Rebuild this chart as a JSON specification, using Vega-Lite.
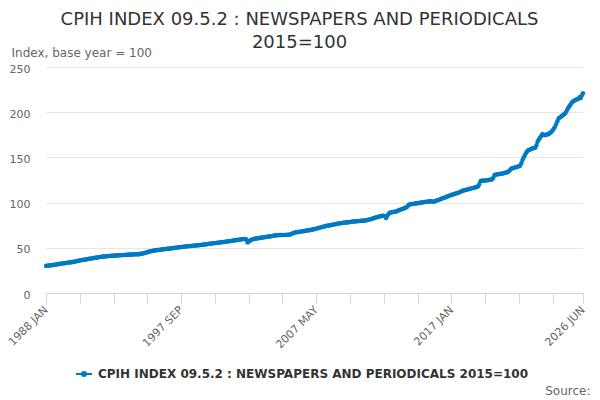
{
  "$schema": "https://vega.github.io/schema/vega-lite/v6.json",
  "description": "CPIH index 09.5.2, newspapers and periodicals, monthly",
  "width": 537,
  "height": 226,
  "autosize": {"type": "none"},
  "padding": {"left": 46, "top": 67, "right": 17, "bottom": 107},
  "background": "white",
  "config": {"font": "DejaVu Sans", "view": {"stroke": null}},
  "title": {
    "text": ["CPIH INDEX 09.5.2 : NEWSPAPERS AND PERIODICALS", "2015=100"],
    "fontSize": 18,
    "fontWeight": "normal",
    "color": "#333333",
    "anchor": "middle",
    "frame": "group",
    "dx": -15,
    "offset": -6,
    "lineHeight": 23
  },
  "data": {
    "values": [
      {"d":"1988-01","v":30.0},{"d":"1988-02","v":30.2},{"d":"1988-03","v":30.3},{"d":"1988-04","v":30.5},{"d":"1988-05","v":30.6},{"d":"1988-06","v":30.8},{"d":"1988-07","v":31.0},{"d":"1988-08","v":31.2},{"d":"1988-09","v":31.4},{"d":"1988-10","v":31.6},{"d":"1988-11","v":31.8},{"d":"1988-12","v":32.0},
      {"d":"1989-01","v":32.3},{"d":"1989-02","v":32.5},{"d":"1989-03","v":32.7},{"d":"1989-04","v":32.9},{"d":"1989-05","v":33.0},{"d":"1989-06","v":33.2},{"d":"1989-07","v":33.4},{"d":"1989-08","v":33.6},{"d":"1989-09","v":33.8},{"d":"1989-10","v":34.0},{"d":"1989-11","v":34.1},{"d":"1989-12","v":34.3},
      {"d":"1990-01","v":34.6},{"d":"1990-02","v":34.9},{"d":"1990-03","v":35.1},{"d":"1990-04","v":35.4},{"d":"1990-05","v":35.7},{"d":"1990-06","v":35.9},{"d":"1990-07","v":36.2},{"d":"1990-08","v":36.4},{"d":"1990-09","v":36.7},{"d":"1990-10","v":36.9},{"d":"1990-11","v":37.1},{"d":"1990-12","v":37.3},
      {"d":"1991-01","v":37.6},{"d":"1991-02","v":37.8},{"d":"1991-03","v":38.0},{"d":"1991-04","v":38.3},{"d":"1991-05","v":38.5},{"d":"1991-06","v":38.7},{"d":"1991-07","v":38.9},{"d":"1991-08","v":39.1},{"d":"1991-09","v":39.3},{"d":"1991-10","v":39.5},{"d":"1991-11","v":39.7},{"d":"1991-12","v":39.9},
      {"d":"1992-01","v":40.1},{"d":"1992-02","v":40.3},{"d":"1992-03","v":40.4},{"d":"1992-04","v":40.5},{"d":"1992-05","v":40.7},{"d":"1992-06","v":40.8},{"d":"1992-07","v":40.9},{"d":"1992-08","v":41.0},{"d":"1992-09","v":41.1},{"d":"1992-10","v":41.2},{"d":"1992-11","v":41.3},{"d":"1992-12","v":41.4},
      {"d":"1993-01","v":41.5},{"d":"1993-02","v":41.6},{"d":"1993-03","v":41.7},{"d":"1993-04","v":41.7},{"d":"1993-05","v":41.8},{"d":"1993-06","v":41.9},{"d":"1993-07","v":42.0},{"d":"1993-08","v":42.0},{"d":"1993-09","v":42.1},{"d":"1993-10","v":42.2},{"d":"1993-11","v":42.3},{"d":"1993-12","v":42.4},
      {"d":"1994-01","v":42.5},{"d":"1994-02","v":42.6},{"d":"1994-03","v":42.6},{"d":"1994-04","v":42.7},{"d":"1994-05","v":42.8},{"d":"1994-06","v":42.8},{"d":"1994-07","v":43.0},{"d":"1994-08","v":42.7},{"d":"1994-09","v":43.0},{"d":"1994-10","v":43.3},{"d":"1994-11","v":43.5},{"d":"1994-12","v":43.6},
      {"d":"1995-01","v":44.0},{"d":"1995-02","v":44.4},{"d":"1995-03","v":44.8},{"d":"1995-04","v":45.2},{"d":"1995-05","v":45.6},{"d":"1995-06","v":46.0},{"d":"1995-07","v":46.3},{"d":"1995-08","v":46.6},{"d":"1995-09","v":46.8},{"d":"1995-10","v":47.0},{"d":"1995-11","v":47.2},{"d":"1995-12","v":47.3},
      {"d":"1996-01","v":47.5},{"d":"1996-02","v":47.7},{"d":"1996-03","v":47.9},{"d":"1996-04","v":48.0},{"d":"1996-05","v":48.2},{"d":"1996-06","v":48.4},{"d":"1996-07","v":48.6},{"d":"1996-08","v":48.7},{"d":"1996-09","v":48.9},{"d":"1996-10","v":49.0},{"d":"1996-11","v":49.2},{"d":"1996-12","v":49.3},
      {"d":"1997-01","v":49.5},{"d":"1997-02","v":49.7},{"d":"1997-03","v":49.8},{"d":"1997-04","v":50.0},{"d":"1997-05","v":50.2},{"d":"1997-06","v":50.3},{"d":"1997-07","v":50.5},{"d":"1997-08","v":50.7},{"d":"1997-09","v":50.8},{"d":"1997-10","v":51.0},{"d":"1997-11","v":51.2},{"d":"1997-12","v":51.3},
      {"d":"1998-01","v":51.5},{"d":"1998-02","v":51.6},{"d":"1998-03","v":51.8},{"d":"1998-04","v":51.9},{"d":"1998-05","v":52.0},{"d":"1998-06","v":52.1},{"d":"1998-07","v":52.3},{"d":"1998-08","v":52.4},{"d":"1998-09","v":52.5},{"d":"1998-10","v":52.6},{"d":"1998-11","v":52.8},{"d":"1998-12","v":52.9},
      {"d":"1999-01","v":53.0},{"d":"1999-02","v":53.2},{"d":"1999-03","v":53.4},{"d":"1999-04","v":53.5},{"d":"1999-05","v":53.7},{"d":"1999-06","v":53.9},{"d":"1999-07","v":54.0},{"d":"1999-08","v":54.2},{"d":"1999-09","v":54.4},{"d":"1999-10","v":54.5},{"d":"1999-11","v":54.7},{"d":"1999-12","v":54.9},
      {"d":"2000-01","v":55.0},{"d":"2000-02","v":55.2},{"d":"2000-03","v":55.4},{"d":"2000-04","v":55.5},{"d":"2000-05","v":55.7},{"d":"2000-06","v":55.9},{"d":"2000-07","v":56.0},{"d":"2000-08","v":56.2},{"d":"2000-09","v":56.4},{"d":"2000-10","v":56.5},{"d":"2000-11","v":56.7},{"d":"2000-12","v":56.9},
      {"d":"2001-01","v":57.0},{"d":"2001-02","v":57.2},{"d":"2001-03","v":57.4},{"d":"2001-04","v":57.6},{"d":"2001-05","v":57.8},{"d":"2001-06","v":58.0},{"d":"2001-07","v":58.2},{"d":"2001-08","v":58.4},{"d":"2001-09","v":58.6},{"d":"2001-10","v":58.8},{"d":"2001-11","v":59.0},{"d":"2001-12","v":59.2},
      {"d":"2002-01","v":59.4},{"d":"2002-02","v":59.6},{"d":"2002-03","v":59.7},{"d":"2002-04","v":59.8},{"d":"2002-05","v":59.2},{"d":"2002-06","v":56.0},{"d":"2002-07","v":56.8},{"d":"2002-08","v":57.8},{"d":"2002-09","v":58.6},{"d":"2002-10","v":59.2},{"d":"2002-11","v":59.6},{"d":"2002-12","v":60.0},
      {"d":"2003-01","v":60.2},{"d":"2003-02","v":60.4},{"d":"2003-03","v":60.6},{"d":"2003-04","v":60.8},{"d":"2003-05","v":61.0},{"d":"2003-06","v":61.2},{"d":"2003-07","v":61.4},{"d":"2003-08","v":61.6},{"d":"2003-09","v":61.8},{"d":"2003-10","v":62.0},{"d":"2003-11","v":62.2},{"d":"2003-12","v":62.4},
      {"d":"2004-01","v":62.6},{"d":"2004-02","v":62.8},{"d":"2004-03","v":63.0},{"d":"2004-04","v":63.2},{"d":"2004-05","v":63.5},{"d":"2004-06","v":63.8},{"d":"2004-07","v":64.0},{"d":"2004-08","v":64.0},{"d":"2004-09","v":64.1},{"d":"2004-10","v":64.1},{"d":"2004-11","v":64.2},{"d":"2004-12","v":64.2},
      {"d":"2005-01","v":64.2},{"d":"2005-02","v":64.3},{"d":"2005-03","v":64.3},{"d":"2005-04","v":64.4},{"d":"2005-05","v":64.4},{"d":"2005-06","v":64.5},{"d":"2005-07","v":65.0},{"d":"2005-08","v":65.6},{"d":"2005-09","v":66.1},{"d":"2005-10","v":66.6},{"d":"2005-11","v":67.0},{"d":"2005-12","v":67.2},
      {"d":"2006-01","v":67.4},{"d":"2006-02","v":67.6},{"d":"2006-03","v":67.8},{"d":"2006-04","v":68.0},{"d":"2006-05","v":68.2},{"d":"2006-06","v":68.4},{"d":"2006-07","v":68.6},{"d":"2006-08","v":68.9},{"d":"2006-09","v":69.1},{"d":"2006-10","v":69.3},{"d":"2006-11","v":69.5},{"d":"2006-12","v":69.8},
      {"d":"2007-01","v":70.0},{"d":"2007-02","v":70.3},{"d":"2007-03","v":70.6},{"d":"2007-04","v":70.9},{"d":"2007-05","v":71.2},{"d":"2007-06","v":71.5},{"d":"2007-07","v":71.9},{"d":"2007-08","v":72.2},{"d":"2007-09","v":72.6},{"d":"2007-10","v":72.9},{"d":"2007-11","v":73.3},{"d":"2007-12","v":73.6},
      {"d":"2008-01","v":74.0},{"d":"2008-02","v":74.3},{"d":"2008-03","v":74.5},{"d":"2008-04","v":74.8},{"d":"2008-05","v":75.0},{"d":"2008-06","v":75.3},{"d":"2008-07","v":75.5},{"d":"2008-08","v":75.8},{"d":"2008-09","v":76.0},{"d":"2008-10","v":76.3},{"d":"2008-11","v":76.5},{"d":"2008-12","v":76.8},
      {"d":"2009-01","v":77.0},{"d":"2009-02","v":77.3},{"d":"2009-03","v":77.5},{"d":"2009-04","v":77.6},{"d":"2009-05","v":77.8},{"d":"2009-06","v":77.9},{"d":"2009-07","v":78.0},{"d":"2009-08","v":78.2},{"d":"2009-09","v":78.3},{"d":"2009-10","v":78.5},{"d":"2009-11","v":78.7},{"d":"2009-12","v":78.9},
      {"d":"2010-01","v":79.0},{"d":"2010-02","v":79.1},{"d":"2010-03","v":79.3},{"d":"2010-04","v":79.4},{"d":"2010-05","v":79.5},{"d":"2010-06","v":79.6},{"d":"2010-07","v":79.8},{"d":"2010-08","v":79.9},{"d":"2010-09","v":80.0},{"d":"2010-10","v":80.1},{"d":"2010-11","v":80.3},{"d":"2010-12","v":80.5},
      {"d":"2011-01","v":80.7},{"d":"2011-02","v":81.0},{"d":"2011-03","v":81.4},{"d":"2011-04","v":81.8},{"d":"2011-05","v":82.2},{"d":"2011-06","v":82.6},{"d":"2011-07","v":83.0},{"d":"2011-08","v":83.4},{"d":"2011-09","v":83.8},{"d":"2011-10","v":84.2},{"d":"2011-11","v":84.6},{"d":"2011-12","v":85.0},
      {"d":"2012-01","v":85.2},{"d":"2012-02","v":85.4},{"d":"2012-03","v":85.6},{"d":"2012-04","v":85.0},{"d":"2012-05","v":83.0},{"d":"2012-06","v":85.5},{"d":"2012-07","v":87.5},{"d":"2012-08","v":88.8},{"d":"2012-09","v":89.1},{"d":"2012-10","v":89.4},{"d":"2012-11","v":89.6},{"d":"2012-12","v":89.8},
      {"d":"2013-01","v":90.0},{"d":"2013-02","v":90.5},{"d":"2013-03","v":91.0},{"d":"2013-04","v":91.5},{"d":"2013-05","v":92.0},{"d":"2013-06","v":92.5},{"d":"2013-07","v":93.0},{"d":"2013-08","v":93.5},{"d":"2013-09","v":94.0},{"d":"2013-10","v":94.6},{"d":"2013-11","v":95.5},{"d":"2013-12","v":97.0},
      {"d":"2014-01","v":98.0},{"d":"2014-02","v":98.2},{"d":"2014-03","v":98.4},{"d":"2014-04","v":98.6},{"d":"2014-05","v":98.8},{"d":"2014-06","v":99.0},{"d":"2014-07","v":99.2},{"d":"2014-08","v":99.4},{"d":"2014-09","v":99.6},{"d":"2014-10","v":99.8},{"d":"2014-11","v":100.0},{"d":"2014-12","v":100.2},
      {"d":"2015-01","v":100.4},{"d":"2015-02","v":100.6},{"d":"2015-03","v":100.8},{"d":"2015-04","v":101.0},{"d":"2015-05","v":101.2},{"d":"2015-06","v":101.3},{"d":"2015-07","v":101.4},{"d":"2015-08","v":101.5},{"d":"2015-09","v":101.2},{"d":"2015-10","v":101.0},{"d":"2015-11","v":101.6},{"d":"2015-12","v":102.0},
      {"d":"2016-01","v":102.5},{"d":"2016-02","v":103.0},{"d":"2016-03","v":103.5},{"d":"2016-04","v":104.0},{"d":"2016-05","v":104.5},{"d":"2016-06","v":105.0},{"d":"2016-07","v":105.5},{"d":"2016-08","v":106.0},{"d":"2016-09","v":106.5},{"d":"2016-10","v":107.0},{"d":"2016-11","v":107.5},{"d":"2016-12","v":108.0},
      {"d":"2017-01","v":108.5},{"d":"2017-02","v":108.9},{"d":"2017-03","v":109.3},{"d":"2017-04","v":109.8},{"d":"2017-05","v":110.2},{"d":"2017-06","v":110.6},{"d":"2017-07","v":111.0},{"d":"2017-08","v":111.5},{"d":"2017-09","v":112.0},{"d":"2017-10","v":112.8},{"d":"2017-11","v":113.2},{"d":"2017-12","v":113.6},
      {"d":"2018-01","v":114.0},{"d":"2018-02","v":114.3},{"d":"2018-03","v":114.6},{"d":"2018-04","v":115.0},{"d":"2018-05","v":115.3},{"d":"2018-06","v":115.6},{"d":"2018-07","v":116.0},{"d":"2018-08","v":116.3},{"d":"2018-09","v":116.6},{"d":"2018-10","v":117.0},{"d":"2018-11","v":117.6},{"d":"2018-12","v":118.0},
      {"d":"2019-01","v":120.5},{"d":"2019-02","v":124.0},{"d":"2019-03","v":124.2},{"d":"2019-04","v":124.3},{"d":"2019-05","v":124.4},{"d":"2019-06","v":124.5},{"d":"2019-07","v":124.6},{"d":"2019-08","v":124.8},{"d":"2019-09","v":125.0},{"d":"2019-10","v":125.2},{"d":"2019-11","v":125.5},{"d":"2019-12","v":125.7},
      {"d":"2020-01","v":127.5},{"d":"2020-02","v":130.5},{"d":"2020-03","v":130.8},{"d":"2020-04","v":131.0},{"d":"2020-05","v":131.3},{"d":"2020-06","v":131.5},{"d":"2020-07","v":131.8},{"d":"2020-08","v":132.0},{"d":"2020-09","v":132.3},{"d":"2020-10","v":132.6},{"d":"2020-11","v":132.9},{"d":"2020-12","v":133.2},
      {"d":"2021-01","v":133.5},{"d":"2021-02","v":134.5},{"d":"2021-03","v":135.6},{"d":"2021-04","v":136.8},{"d":"2021-05","v":138.0},{"d":"2021-06","v":138.3},{"d":"2021-07","v":138.6},{"d":"2021-08","v":139.0},{"d":"2021-09","v":139.4},{"d":"2021-10","v":139.8},{"d":"2021-11","v":140.3},{"d":"2021-12","v":140.8},
      {"d":"2022-01","v":143.5},{"d":"2022-02","v":147.0},{"d":"2022-03","v":149.5},{"d":"2022-04","v":152.0},{"d":"2022-05","v":154.5},{"d":"2022-06","v":156.5},{"d":"2022-07","v":158.0},{"d":"2022-08","v":158.5},{"d":"2022-09","v":159.0},{"d":"2022-10","v":159.5},{"d":"2022-11","v":160.0},{"d":"2022-12","v":160.4},
      {"d":"2023-01","v":160.8},{"d":"2023-02","v":163.5},{"d":"2023-03","v":167.4},{"d":"2023-04","v":169.5},{"d":"2023-05","v":171.5},{"d":"2023-06","v":173.5},{"d":"2023-07","v":175.6},{"d":"2023-08","v":175.0},{"d":"2023-09","v":174.5},{"d":"2023-10","v":175.0},{"d":"2023-11","v":175.3},{"d":"2023-12","v":175.6},
      {"d":"2024-01","v":176.5},{"d":"2024-02","v":177.5},{"d":"2024-03","v":178.5},{"d":"2024-04","v":180.0},{"d":"2024-05","v":182.0},{"d":"2024-06","v":184.0},{"d":"2024-07","v":187.0},{"d":"2024-08","v":190.0},{"d":"2024-09","v":193.0},{"d":"2024-10","v":194.0},{"d":"2024-11","v":195.0},{"d":"2024-12","v":196.0},
      {"d":"2025-01","v":197.0},{"d":"2025-02","v":198.0},{"d":"2025-03","v":199.0},{"d":"2025-04","v":201.5},{"d":"2025-05","v":204.0},{"d":"2025-06","v":206.0},{"d":"2025-07","v":208.0},{"d":"2025-08","v":210.0},{"d":"2025-09","v":211.6},{"d":"2025-10","v":212.5},{"d":"2025-11","v":213.2},{"d":"2025-12","v":213.8},
      {"d":"2026-01","v":214.3},{"d":"2026-02","v":215.0},{"d":"2026-03","v":216.5},{"d":"2026-04","v":215.8},{"d":"2026-05","v":218.5},{"d":"2026-06","v":221.0}
    ]
  },
  "mark": {"type": "line", "strokeWidth": 2.5, "point": {"filled": true, "size": 20}},
  "encoding": {
    "x": {
      "field": "d",
      "type": "temporal",
      "scale": {
        "type": "utc",
        "nice": false,
        "domain": [{"year": 1988, "month": 1, "date": 1, "utc": true}, {"year": 2026, "month": 6, "date": 1, "utc": true}]
      },
      "axis": {
        "values": [
          {"year": 1988, "month": 1, "date": 1, "utc": true},
          {"year": 1990, "month": 6, "date": 1, "utc": true},
          {"year": 1992, "month": 11, "date": 1, "utc": true},
          {"year": 1995, "month": 4, "date": 1, "utc": true},
          {"year": 1997, "month": 9, "date": 1, "utc": true},
          {"year": 2000, "month": 2, "date": 1, "utc": true},
          {"year": 2002, "month": 7, "date": 1, "utc": true},
          {"year": 2004, "month": 12, "date": 1, "utc": true},
          {"year": 2007, "month": 5, "date": 1, "utc": true},
          {"year": 2009, "month": 10, "date": 1, "utc": true},
          {"year": 2012, "month": 3, "date": 1, "utc": true},
          {"year": 2014, "month": 8, "date": 1, "utc": true},
          {"year": 2017, "month": 1, "date": 1, "utc": true},
          {"year": 2019, "month": 6, "date": 1, "utc": true},
          {"year": 2021, "month": 11, "date": 1, "utc": true},
          {"year": 2024, "month": 4, "date": 1, "utc": true},
          {"year": 2026, "month": 6, "date": 1, "utc": true}
        ],
        "labelExpr": "(utcFormat(datum.value, '%Y-%m') == '1988-01' || utcFormat(datum.value, '%Y-%m') == '1997-09' || utcFormat(datum.value, '%Y-%m') == '2007-05' || utcFormat(datum.value, '%Y-%m') == '2017-01' || utcFormat(datum.value, '%Y-%m') == '2026-06') ? upper(utcFormat(datum.value, '%Y %b')) : ''",
        "labelAngle": -45,
        "labelAlign": "right",
        "labelBaseline": "middle",
        "labelColor": "#666666",
        "labelFontSize": 11,
        "labelPadding": 5,
        "labelOverlap": false,
        "labelFlush": false,
        "labelBound": false,
        "domainColor": "#ccd6eb",
        "tickColor": "#ccd6eb",
        "tickSize": 10,
        "grid": false,
        "title": "Source:",
        "titleX": 544,
        "titleY": 97,
        "titleAlign": "right",
        "titleAnchor": null,
        "titleBaseline": "middle",
        "titleFontSize": 12,
        "titleFontWeight": "normal",
        "titleColor": "#666666"
      }
    },
    "y": {
      "field": "v",
      "type": "quantitative",
      "scale": {"domain": [0, 250], "nice": false},
      "axis": {
        "values": [0, 50, 100, 150, 200, 250],
        "domain": false,
        "ticks": false,
        "grid": true,
        "gridColor": "#e6e6e6",
        "labelColor": "#666666",
        "labelFontSize": 11,
        "labelPadding": 16,
        "labelOffset": 2,
        "title": "Index, base year = 100",
        "titleAngle": 0,
        "titleAlign": "left",
        "titleBaseline": "middle",
        "titleX": -35,
        "titleY": -15,
        "titleFontSize": 12,
        "titleFontWeight": "normal",
        "titleColor": "#666666"
      }
    },
    "color": {
      "datum": "CPIH INDEX 09.5.2 : NEWSPAPERS AND PERIODICALS 2015=100",
      "scale": {"range": ["#007ac3"]},
      "legend": {
        "orient": "none",
        "legendX": 29,
        "legendY": 298,
        "title": null,
        "padding": 0,
        "symbolType": "M-1,0L1,0M-0.25,0A0.25,0.25 0 1,1 0.25,0A0.25,0.25 0 1,1 -0.25,0Z",
        "symbolSize": 256,
        "symbolStrokeWidth": 2,
        "symbolFillColor": "#007ac3",
        "symbolStrokeColor": "#007ac3",
        "labelFontSize": 12,
        "labelFontWeight": "bold",
        "labelColor": "#333333",
        "labelOffset": 5,
        "labelLimit": 600
      }
    }
  }
}
